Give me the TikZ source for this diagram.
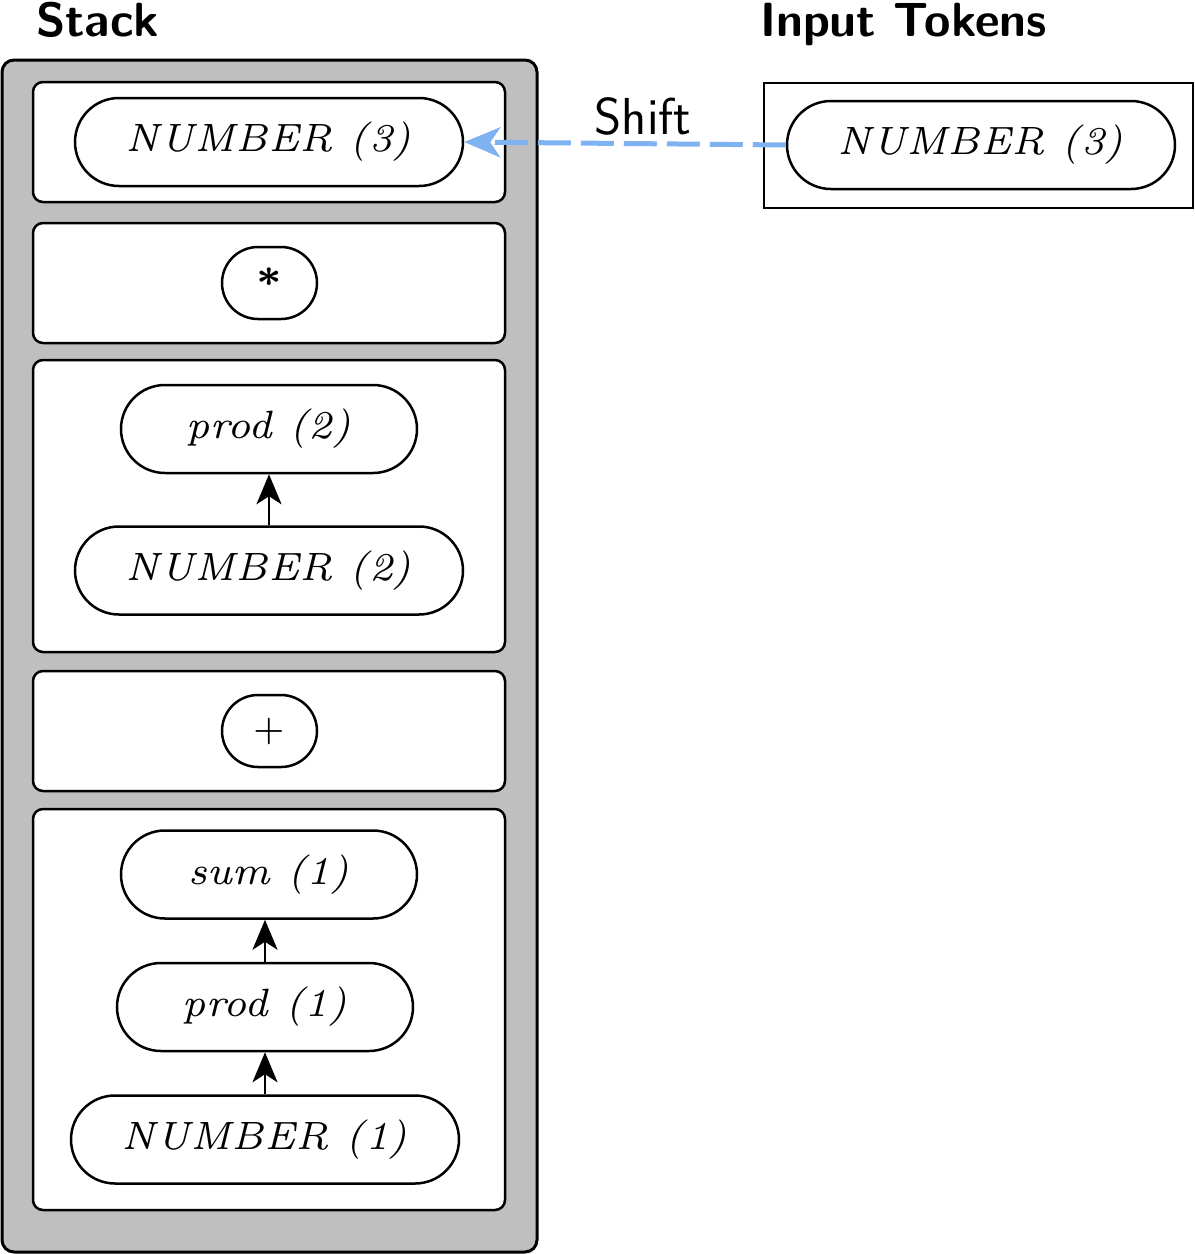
\documentclass[tikz,border=0pt]{standalone}
\usepackage{fontspec}
\newfontfamily\pillfamily{lmroman7-italic.otf}
\newfontfamily\pilluprfamily{lmroman7-regular.otf}
\newfontfamily\pillboldfamily{lmroman7-bold.otf}
\usetikzlibrary{arrows.meta}
\definecolor{shiftblue}{RGB}{127,178,240}
\newcommand{\pillfont}{\pillfamily\fontsize{39.5}{47}\selectfont}
\newcommand{\titlefont}{\sffamily\bfseries\fontsize{48}{58}\selectfont}
\newcommand{\labelfont}{\sffamily\fontsize{52}{62}\selectfont}
\tikzset{
  outerbox/.style={draw, line width=3pt, rounded corners=12pt, fill=gray!50, inner sep=0pt, minimum width=535pt, minimum height=1192pt},
  stackbox/.style={draw, line width=2.5pt, rounded corners=10pt, fill=white, inner sep=0pt, minimum width=472pt},
  inbox/.style={draw, line width=2pt, fill=white, inner sep=0pt, minimum width=429pt, minimum height=125pt},
  pill/.style={draw, line width=2.5pt, rounded corners=44pt, fill=white, inner sep=0pt, minimum height=88pt, font=\pillfont},
  smallpill/.style={draw, line width=2.5pt, rounded corners=36pt, fill=white, inner sep=0pt, minimum height=72pt, minimum width=95pt, font=\pillfont},
  uparrow/.style={draw, line width=2.5pt, -{Stealth[length=30pt, width=25pt, inset=8pt]}},
  shiftarrow/.style={draw=shiftblue, line width=5pt, dash pattern=on 33pt off 10pt, -{Stealth[length=36pt, width=30pt, inset=10pt]}},
}
\begin{document}
\begin{tikzpicture}[x=1pt, y=-1pt]
\useasboundingbox (0,0) rectangle (1195,1254);
% titles
\node[anchor=base west, inner sep=0pt, font=\titlefont] (stacktitle) at (36,36.5) {Stack};
\node[anchor=base west, inner sep=0pt, font=\titlefont] (inputtitle) at (760,36.5) {Input Tokens};
% stack container
\node[outerbox] (stack) at (269.5,656) {};
\node[stackbox, minimum height=120pt] (b1) at (269,142) {};
\node[stackbox, minimum height=120pt] (b2) at (269,283) {};
\node[stackbox, minimum height=292pt] (b3) at (269,506) {};
\node[stackbox, minimum height=120pt] (b4) at (269,731) {};
\node[stackbox, minimum height=401pt] (b5) at (269,1009.5) {};
% input tokens box
\node[inbox] (inbox) at (978.5,145.5) {};
% pills
\node[pill, minimum width=388pt] (s3) at (269,142) {NUMBER (3)};
\node[smallpill] (star) at (269.5,283) {\pillboldfamily\raisebox{-0.27em}{*}};
\node[pill, minimum width=296pt] (p2) at (269,429) {prod (2)};
\node[pill, minimum width=388pt] (n2) at (269,570.5) {NUMBER (2)};
\node[smallpill] (plus) at (269.5,731) {\pilluprfamily\fontsize{36}{44}\selectfont +};
\node[pill, minimum width=296pt] (sum1) at (269,874.5) {sum (1)};
\node[pill, minimum width=296pt] (p1) at (265,1007) {prod (1)};
\node[pill, minimum width=388pt] (n1) at (265,1139.5) {NUMBER (1)};
\node[pill, minimum width=388pt] (in3) at (981,145) {NUMBER (3)};
% connectors
\draw[uparrow] (n2.north) -- (p2.south);
\draw[uparrow] (p1.north) -- (p1.north |- sum1.south);
\draw[uparrow] (n1.north) -- (n1.north |- p1.south);
\draw[shiftarrow] (in3.west) -- (s3.east);
\node[anchor=base, inner sep=0pt, font=\labelfont] (shiftlabel) at (643,134) {Shift};
\end{tikzpicture}
\end{document}
